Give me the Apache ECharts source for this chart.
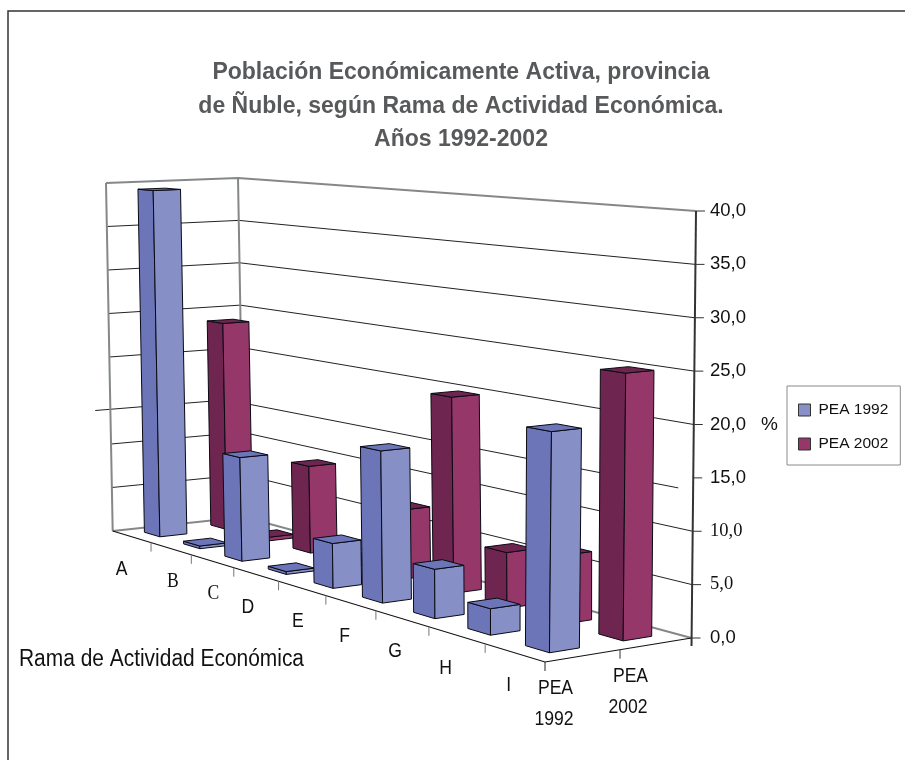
<!DOCTYPE html>
<html>
<head>
<meta charset="utf-8">
<title>PEA Ñuble</title>
<script src="https://cdn.jsdelivr.net/npm/echarts@6/dist/echarts.min.js"></script>
<style>
  html, body { margin: 0; padding: 0; background: #fff; }
  #chart { width: 905px; height: 760px; }
</style>
</head>
<body>
<div id="chart"></div>
<script>
// datos
var categories = ['A', 'B', 'C', 'D', 'E', 'F', 'G', 'H', 'I'];
var seriesNames = ['PEA 1992', 'PEA 2002'];
var pea1992 = [39.3, 0.3, 11.2, 0.3, 4.6, 15.2, 4.8, 2.5, 20.3];
var pea2002 = [23.7, 0.4, 9.5, 0.5, 7.2, 19.9, 5.5, 6.6, 25.0];
var valueTicks = [0, 5, 10, 15, 20, 25, 30, 35, 40];

var serifLabels = ['B', 'C'];
var SANS = '"Liberation Sans", Arial, sans-serif';
var SERIF = '"Liberation Serif", serif';

// esquinas de la caja 3D en pantalla: (u,v) = (0,0) (1,0) (1,1) (0,1)
var floorQuad = [[112.7, 531], [545, 662], [691.5, 638], [244, 517]];
var ceilQuad = [[106, 183], [550, 220], [696, 211], [238, 178]];

function homography(q) {
  var dx1 = q[1][0] - q[2][0], dx2 = q[3][0] - q[2][0], sx = q[0][0] - q[1][0] + q[2][0] - q[3][0];
  var dy1 = q[1][1] - q[2][1], dy2 = q[3][1] - q[2][1], sy = q[0][1] - q[1][1] + q[2][1] - q[3][1];
  var det = dx1 * dy2 - dx2 * dy1;
  var g = (sx * dy2 - dx2 * sy) / det;
  var h = (dx1 * sy - sx * dy1) / det;
  var a = q[1][0] - q[0][0] + g * q[1][0], b = q[3][0] - q[0][0] + h * q[3][0];
  var d = q[1][1] - q[0][1] + g * q[1][1], e = q[3][1] - q[0][1] + h * q[3][1];
  return function (u, v) {
    var t = g * u + h * v + 1;
    return [(a * u + b * v + q[0][0]) / t, (d * u + e * v + q[0][1]) / t];
  };
}
var floorH = homography(floorQuad);
var ceilH = homography(ceilQuad);

// u: categoria, v: serie, w: altura (0..1)
function project(u, v, w) {
  var p0 = floorH(u, v), p1 = ceilH(u, v);
  return [p0[0] + (p1[0] - p0[0]) * w, p0[1] + (p1[1] - p0[1]) * w];
}

function face(points, color) {
  return {
    type: 'polygon',
    shape: { points: points },
    style: { fill: color, stroke: '#0a0a14', lineWidth: 1 }
  };
}
function line(points, color, width) {
  return {
    type: 'polyline',
    shape: { points: points },
    style: { fill: null, stroke: color, lineWidth: width }
  };
}
// texto algo angosto, como el del original
function label(text, x, y, font, size, scaleX) {
  return {
    type: 'text',
    x: x, y: y,
    scaleX: scaleX || 0.88,
    style: {
      text: text, fill: '#111', font: size + 'px ' + font,
      textAlign: 'center', textVerticalAlign: 'middle'
    }
  };
}

// barra 3D, la escala pasa por los ejes de echarts
function barRenderer(seriesPos, dark, light, topColor) {
  return function (params, api) {
    var sys = params.coordSys;
    var c = api.coord([api.value(0), api.value(1)]);
    var band = api.size([1, 0])[0];
    var uc = (c[0] - sys.x) / sys.width;
    var hu = 0.2 * band / sys.width;
    var w = (sys.y + sys.height - c[1]) / sys.height;
    var v0 = (seriesPos + 0.3) / seriesNames.length;
    var v1 = (seriesPos + 0.7) / seriesNames.length;
    var u0 = uc - hu, u1 = uc + hu;
    return {
      type: 'group',
      children: [
        face([project(u0, v0, 0), project(u1, v0, 0), project(u1, v0, w), project(u0, v0, w)], dark),
        face([project(u1, v0, 0), project(u1, v1, 0), project(u1, v1, w), project(u1, v0, w)], light),
        face([project(u0, v0, w), project(u1, v0, w), project(u1, v1, w), project(u0, v1, w)], topColor)
      ]
    };
  };
}

// la linea de 15 esta corrida en el original
var SHIFTED_TICK = 15, SHIFT_X = -15, SHIFT_Y = 10;

function renderWall(params, api) {
  var sys = params.coordSys;
  var val = api.value(1);
  var w = (sys.y + sys.height - api.coord([0, val])[1]) / sys.height;
  var pts = [project(0, 0, w), project(0, 1, w), project(1, 1, w)];
  if (val === 0) {
    return line(pts, '#858889', 2);
  }
  if (val === 40) {
    return {
      type: 'group',
      children: [
        line(pts, '#858889', 2),
        line([project(0, 0, 0), project(0, 0, 1)], '#858889', 2),
        line([project(0, 1, 0), project(0, 1, 1)], '#858889', 2)
      ]
    };
  }
  if (val === SHIFTED_TICK) {
    pts = pts.map(function (p) { return [p[0] + SHIFT_X, p[1] + SHIFT_Y]; });
  }
  return line(pts, '#222', 1);
}

function renderAxes() {
  var kids = [
    line([project(0, 0, 0), project(1, 0, 0), project(1, 1, 0)], '#111', 1.2),
    line([project(1, 1, 1), [691.5, 646]], '#333', 2)
  ];
  var n = categories.length;
  for (var k = 1; k <= n; k++) {
    var p = project(k / n, 0, 0);
    kids.push(line([p, [p[0], p[1] + 9]], k === n ? '#222' : '#777', 1));
  }
  var s = project(1, 0.5, 0);
  kids.push(line([s, [s[0], s[1] + 9]], '#333', 1));
  valueTicks.forEach(function (t) {
    var q = project(1, 1, t / 40);
    kids.push(line([q, [q[0] + 9, q[1]]], '#333', 1));
  });
  return { type: 'group', children: kids };
}

// posicion de las letras: centro de la categoria con un ajuste
var catLabelDx = [-10, 2, 1, -8, -4, -6, -7, -11, -6];
var catLabelDy = 33;

function renderCatLabel(params, api) {
  var i = api.value(0);
  var p = project((i + 0.5) / categories.length, 0, 0);
  var name = categories[i];
  return label(name, p[0] + catLabelDx[i], p[1] + catLabelDy,
    serifLabels.indexOf(name) >= 0 ? SERIF : SANS, 20);
}

var chart = echarts.init(document.getElementById('chart'), null, { renderer: 'canvas' });

var option = {
  animation: false,
  backgroundColor: '#fff',
  title: {
    text: 'Población Económicamente Activa, provincia\nde Ñuble, según Rama de Actividad Económica.\nAños 1992-2002',
    left: 456,
    top: 51,
    textAlign: 'center',
    textStyle: {
      fontFamily: SANS, fontWeight: 'bold', fontSize: 23,
      color: '#58595b', lineHeight: 33.5
    }
  },
  legend: {
    data: seriesNames,
    orient: 'vertical',
    left: 787,
    top: 386,
    padding: [16, 12, 13, 11],
    itemWidth: 12,
    itemHeight: 12,
    itemGap: 18,
    icon: 'rect',
    borderColor: '#8a8a8a',
    borderWidth: 1,
    itemStyle: { borderColor: '#333', borderWidth: 1 },
    textStyle: { fontFamily: SANS, fontSize: 15.5, color: '#111', padding: [0, 0, 0, 3] },
    selectedMode: false
  },
  grid: { left: 8, right: 211, top: 211, bottom: 122, containLabel: false },
  xAxis: { type: 'category', data: categories, show: false },
  yAxis: {
    type: 'value',
    position: 'right',
    min: 0,
    max: 40,
    interval: 5,
    name: '%',
    nameLocation: 'middle',
    nameGap: 67,
    nameRotate: 0,
    nameTextStyle: { fontFamily: SANS, fontSize: 19, color: '#111' },
    axisLine: { show: false },
    axisTick: { show: false },
    splitLine: { show: false },
    axisLabel: {
      margin: 16,
      fontFamily: SANS,
      fontSize: 18.5,
      color: '#111',
      align: 'left',
      formatter: function (v) {
        var t = v.toFixed(1).replace('.', ',');
        return (v === 5 || v === 10) ? '{s|' + t + '}' : t;
      },
      rich: { s: { fontFamily: SERIF, fontSize: 18.5, color: '#111' } }
    }
  },
  graphic: [
    { type: 'polyline', shape: { points: [[8, 760], [8, 11], [905, 11]] }, style: { fill: null, stroke: '#333', lineWidth: 1.5 } },
    label('Rama de Actividad Económica', 161.5, 660, SANS, 23, 0.91),
    label('PEA', 555.5, 688, SANS, 20),
    label('1992', 554, 719, SANS, 20),
    label('PEA', 630.5, 676, SANS, 20),
    label('2002', 628, 707, SANS, 20)
  ],
  series: [
    {
      name: 'paredes', type: 'custom', z: 1, silent: true,
      data: valueTicks.map(function (t) { return [0, t]; }),
      renderItem: renderWall
    },
    {
      name: seriesNames[1], type: 'custom', z: 2,
      itemStyle: { color: '#96376a' },
      data: pea2002.map(function (v, i) { return [i, v]; }),
      renderItem: barRenderer(1, '#6e2550', '#96376a', '#6e2550')
    },
    {
      name: seriesNames[0], type: 'custom', z: 3,
      itemStyle: { color: '#8890c6' },
      data: pea1992.map(function (v, i) { return [i, v]; }),
      renderItem: barRenderer(0, '#6c75b8', '#8690c6', '#6c75b8')
    },
    {
      name: 'ejes', type: 'custom', z: 4, silent: true,
      data: [[0, 0]],
      renderItem: renderAxes
    },
    {
      name: 'letras', type: 'custom', z: 4, silent: true,
      data: categories.map(function (c, i) { return [i, 0]; }),
      renderItem: renderCatLabel
    }
  ]
};
chart.setOption(option);
</script>
</body>
</html>
